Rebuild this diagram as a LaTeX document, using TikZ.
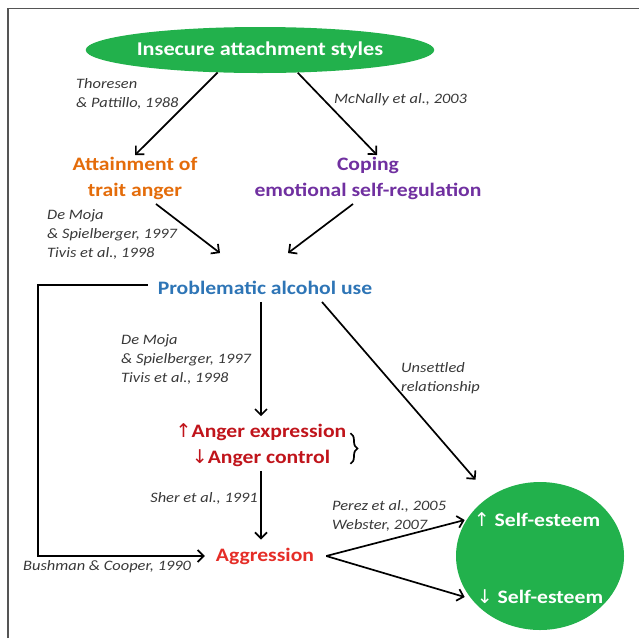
\documentclass[tikz,border=0pt]{standalone}
\usepackage{fontspec}
\setmainfont{Carlito}
\newfontfamily\labfont{Carlito}[FakeStretch=1.14]
\newfontfamily\arrfont{DejaVu Sans}
\usetikzlibrary{arrows.meta,shapes.geometric,decorations.pathreplacing}
\definecolor{grn}{HTML}{22B14C}
\definecolor{orng}{HTML}{E46C0A}
\definecolor{purp}{HTML}{7030A0}
\definecolor{blu}{HTML}{2E75B6}
\definecolor{dred}{HTML}{C0141B}
\definecolor{bred}{HTML}{E52D27}
\definecolor{citegray}{HTML}{383838}
\definecolor{framecol}{HTML}{555555}
\newcommand{\upar}{{\arrfont\mdseries ↑}}
\newcommand{\dnar}{{\arrfont\mdseries ↓}}
\begin{document}
\begin{tikzpicture}[x=1pt,y=-1pt,
  lab/.style={font=\labfont\bfseries\fontsize{19}{26}\selectfont, align=center, inner sep=2pt},
  cit/.style={font=\labfont\itshape\fontsize{14.4}{19}\selectfont, text=citegray, align=left, inner sep=0pt},
  greenshape/.style={ellipse, fill=grn, inner sep=0pt},
  arr/.style={-{Straight Barb[length=6pt,width=12pt]}, line width=1.7pt},
  plain/.style={line width=1.7pt}]
\useasboundingbox (0,0) rectangle (639,638);
% frame
\draw[framecol, line width=1.5pt] (8,638) -- (8,8.5) -- (639,8.5);
% main nodes
\node[greenshape, minimum width=276pt, minimum height=46pt, text=white,
      font=\labfont\bfseries\fontsize{19.5}{24}\selectfont] (ins) at (260,50) {Insecure attachment styles};
\node[lab, text=orng] (att) at (135,178.5) {Attainment of\\trait anger};
\node[lab, text=purp] (cop) at (368,178.5) {Coping\\emotional self-regulation};
\node[lab, text=blu] (pau) at (265,288) {Problematic alcohol use};
\node[lab, text=dred] (ang) at (261,445) {\upar Anger expression\\\dnar Anger control};
\node[lab, text=bred] (agg) at (265,556) {Aggression};
\node[greenshape, minimum width=168pt, minimum height=148pt] (se) at (540,556) {};
\node[lab, text=white] (up) at (537,520) {\upar\ Self-esteem};
\node[lab, text=white] (dn) at (540,597) {\dnar\ Self-esteem};
% citations
\node[cit, anchor=west] (th) at (76,94) {Thoresen\\\& Pattillo, 1988};
\node[cit, anchor=west] (mc) at (334,100) {McNally et al., 2003};
\node[cit, anchor=west] (dm1) at (47,234) {De Moja\\\& Spielberger, 1997\\Tivis et al., 1998};
\node[cit, anchor=west] (dm2) at (121,359) {De Moja\\\& Spielberger, 1997\\Tivis et al., 1998};
\node[cit, anchor=west] (un) at (401,378) {Unsettled\\relationship};
\node[cit, anchor=east] (sh) at (258,498) {Sher et al., 1991};
\node[cit, anchor=west] (pe) at (332,516) {Perez et al., 2005\\Webster, 2007};
\node[cit, anchor=west] (bu) at (23,567) {Bushman \& Cooper, 1990};
% connectors
\draw[arr] (ins.208) -- (att.north);
\draw[arr] (ins.329) -- ([xshift=9pt]cop.north);
\draw[arr] ([xshift=21pt,yshift=-2pt]att.south) -- ([shift={(-45,-26)}]pau.north);
\draw[arr] ([xshift=-15pt,yshift=-2pt]cop.south) -- ([shift={(23,-26)}]pau.north);
\coordinate (lc) at (38,285);
\draw[arr] ([xshift=-8pt,yshift=3pt]pau.west) -- (lc) |- ([xshift=-9pt]agg.west);
\draw[arr] ([yshift=-5pt]pau.south -| ang.north) -- ([yshift=5pt]ang.north);
\draw[arr] ([yshift=-2pt]ang.south) -- ([yshift=6pt]ang.south |- agg.north);
\draw[arr, shorten >=22pt] ([shift={(57,5)}]pau.south) -- (se.130);
\draw[arr] ([xshift=10pt]agg.east) -- ([xshift=-7pt]up.west);
\draw[arr] ([xshift=10pt]agg.east) -- ([xshift=-10pt]dn.west);
\draw[plain, decorate, decoration={brace, amplitude=7pt}]
  ([shift={(2,12)}]ang.north east) -- ([shift={(2,-5)}]ang.south east);
\end{tikzpicture}
\end{document}
